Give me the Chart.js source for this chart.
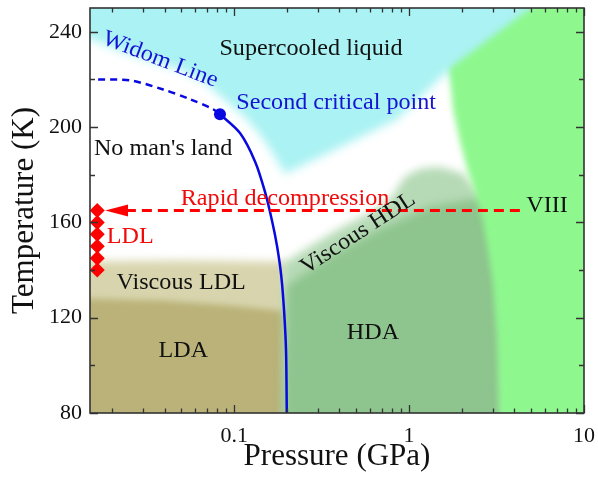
<!DOCTYPE html>
<html><head><meta charset="utf-8">
<script src="https://cdn.jsdelivr.net/npm/chart.js@4.4.1/dist/chart.umd.min.js"></script>
<style>html,body{margin:0;padding:0;background:#fff;}canvas{display:block;}</style>
</head><body>
<canvas id="c" width="598" height="477"></canvas>
<script>
// ---------- data ----------
const xTickValues = [0.02,0.03,0.04,0.05,0.06,0.07,0.08,0.09,0.1,0.2,0.3,0.4,0.5,0.6,0.7,0.8,0.9,1,2,3,4,5,6,7,8,9,10];
const xMajorTicks = [0.1, 1, 10];
const yTickValues = [80,100,120,140,160,180,200,220,240];
const yMajorTicks = [80,120,160,200,240];

// Widom line (dashed) and LDL-HDL coexistence line (solid)
const widomP = [0.0167, 0.0255, 0.0393, 0.0561, 0.0759, 0.083];
const widomT = [220, 219.6, 215.8, 211.7, 207.5, 205.4];
const coexP = [0.083, 0.108, 0.132, 0.150, 0.165, 0.176, 0.186, 0.193, 0.198, 0.2];
const coexT = [205.4, 197.5, 185.4, 172.9, 160.4, 150, 137.5, 122.9, 106.25, 80];
const criticalP = [0.083];
const criticalT = [205.4];
// rapid decompression arrow
const arrowP = [4.3, 0.0213];
const arrowT = [165, 165];
// LDL points
const ldlP = [0.0165, 0.0165, 0.0165, 0.0165, 0.0165, 0.0165];
const ldlT = [140, 145, 150, 155, 160, 165];

// phase regions (pressure GPa, temperature K)
const cyanP = [0.01, 20, 20, 1.9, 1.714, 1.563, 0.854, 0.354, 0.1954, 0.1715, 0.1445, 0.1156, 0.0888, 0.0683, 0.0491, 0.0331, 0.0223, 0.015, 0.01];
const cyanT = [270, 270, 216, 216, 224.2, 221.7, 203.3, 189.6, 180.4, 187.5, 195.8, 204.2, 211.25, 218.75, 224.2, 227.9, 232.1, 237.1, 238.5];
const vLdlP = [0.01, 0.01, 0.05, 0.2, 0.2];
const vLdlT = [60, 143.5, 144, 143.5, 60];
const ldaP = [0.01, 0.01, 0.0414, 0.0987, 0.183, 0.2, 0.2];
const ldaT = [60, 128.3, 127.1, 125, 122.9, 122.5, 60];
const vHdlP = [0.19, 0.1905, 0.261, 0.404, 0.622, 0.778, 0.948, 1.156, 1.503, 2.036, 2.447, 3.5, 3.5];
const vHdlT = [60, 142.5, 149.2, 157.5, 164.6, 169.6, 179.2, 182.5, 183.3, 180.4, 172.9, 170, 60];
const hdaP = [0.19, 0.2, 0.354, 0.682, 1.318, 2.233, 3.5, 3.5];
const hdaT = [60, 133.3, 145.8, 157.1, 166.7, 169.6, 169, 60];
const iceP = [1.7, 9.3, 20, 20, 3.3, 3.267, 3.185, 3.02, 2.827, 2.648, 2.415, 2.173, 1.956, 1.784];
const iceT = [224.6, 265, 265, 60, 60, 80, 110.4, 134.2, 147.9, 160.4, 170.8, 181.25, 193.75, 207.5];

// text labels
const labelTexts = ["Supercooled liquid", "Widom Line", "Second critical point", "No man's land", "Rapid decompression", "VIII", "LDL", "Viscous LDL", "LDA", "HDA", "Viscous HDL"];
const labelP = [0.275, 0.0378, 0.383, 0.0393, 0.1954, 6.15, 0.0255, 0.0498, 0.0512, 0.622, 0.511];
const labelT = [232.9, 228.3, 210, 190.8, 170, 167.1, 153.75, 134.6, 106.25, 113.75, 155.4];

// ---------- styles ----------
const SERIF = '"Liberation Serif", "Times New Roman", serif';
const BLUE = 'rgb(8,8,225)';
const RED = 'rgb(240,10,10)';
const regions = [
  {p: cyanP, t: cyanT, color: 'rgb(170,242,243)', blur: 5},
  {p: vLdlP, t: vLdlT, color: 'rgb(216,213,174)', blur: 4},
  {p: ldaP, t: ldaT, color: 'rgb(186,178,120)', blur: 3},
  {p: vHdlP, t: vHdlT, color: 'rgb(182,218,182)', blur: 4},
  {p: hdaP, t: hdaT, color: 'rgb(142,196,142)', blur: 4},
  {p: iceP, t: iceT, color: 'rgb(142,248,142)', blur: 3}
];
const labelStyles = [
  {color: '#111', size: 23, rot: 0},
  {color: 'rgb(20,20,210)', size: 23, rot: 21},
  {color: 'rgb(20,20,210)', size: 23, rot: 0},
  {color: '#111', size: 23, rot: 0},
  {color: RED, size: 23, rot: 0},
  {color: '#111', size: 23, rot: 0},
  {color: RED, size: 23, rot: 0},
  {color: '#111', size: 23, rot: 0},
  {color: '#111', size: 23, rot: 0},
  {color: '#111', size: 23, rot: 0},
  {color: '#111', size: 23, rot: -33}
];

// arrow head image used as point style
const head = document.createElement('canvas');
head.width = 23; head.height = 13;
(function(){ const g = head.getContext('2d'); g.fillStyle = 'rgb(255,0,0)'; g.beginPath(); g.moveTo(0,6.5); g.lineTo(23,0.5); g.lineTo(23,12.5); g.closePath(); g.fill(); })();

const pts = (P, T) => P.map((p, i) => ({x: p, y: T[i]}));

const regionPlugin = {
  id: 'regions',
  beforeDatasetsDraw(chart) {
    const {ctx, chartArea: a, scales: {x, y}} = chart;
    ctx.save();
    ctx.beginPath(); ctx.rect(a.left, a.top, a.right - a.left, a.bottom - a.top); ctx.clip();
    regions.forEach(r => {
      ctx.save();
      ctx.filter = 'blur(' + r.blur + 'px)';
      ctx.fillStyle = r.color;
      ctx.beginPath();
      r.p.forEach((p, i) => {
        const px = x.getPixelForValue(p), py = y.getPixelForValue(r.t[i]);
        if (i) ctx.lineTo(px, py); else ctx.moveTo(px, py);
      });
      ctx.closePath(); ctx.fill();
      ctx.restore();
    });
    ctx.restore();
  },
  afterDatasetsDraw(chart) {
    const {ctx, scales: {x, y}} = chart;
    labelTexts.forEach((txt, i) => {
      const s = labelStyles[i];
      ctx.save();
      ctx.translate(x.getPixelForValue(labelP[i]), y.getPixelForValue(labelT[i]));
      ctx.rotate(s.rot * Math.PI / 180);
      ctx.scale(1.05, 1);
      ctx.font = s.size + 'px ' + SERIF;
      ctx.fillStyle = s.color;
      ctx.textAlign = 'center';
      ctx.textBaseline = 'middle';
      ctx.fillText(txt, 0, 0);
      ctx.restore();
    });
  },
  afterDraw(chart) {
    const {ctx, chartArea: a, scales: {x, y}} = chart;
    ctx.save();
    ctx.strokeStyle = '#333';
    ctx.lineWidth = 1.3;
    ctx.beginPath();
    xTickValues.forEach(v => {
      const px = Math.round(x.getPixelForValue(v)) + 0.5;
      const len = xMajorTicks.includes(v) ? 8 : 4.5;
      ctx.moveTo(px, a.bottom); ctx.lineTo(px, a.bottom - len);
      ctx.moveTo(px, a.top); ctx.lineTo(px, a.top + len);
    });
    yTickValues.forEach(v => {
      const py = Math.round(y.getPixelForValue(v)) + 0.5;
      const len = yMajorTicks.includes(v) ? 8 : 5;
      ctx.moveTo(a.left, py); ctx.lineTo(a.left + len, py);
      ctx.moveTo(a.right, py); ctx.lineTo(a.right - len, py);
    });
    ctx.stroke();
    ctx.lineWidth = 1.6;
    ctx.strokeRect(a.left, a.top, a.right - a.left, a.bottom - a.top);
    ctx.restore();
  }
};

new Chart(document.getElementById('c'), {
  type: 'scatter',
  data: {
    datasets: [
      {label: 'LDL', data: pts(ldlP, ldlT), showLine: false, pointStyle: 'rectRot', pointRadius: 7.5,
       backgroundColor: 'rgb(255,0,0)', borderColor: 'rgb(255,0,0)', borderWidth: 0, order: 0},
      {label: 'Rapid decompression', data: pts(arrowP, arrowT), showLine: true, borderColor: 'rgb(255,0,0)',
       borderWidth: 3, borderDash: [10, 6], pointRadius: [0, 5], pointStyle: [false, head], order: 1},
      {label: 'Second critical point', data: pts(criticalP, criticalT), showLine: false, pointRadius: 6,
       backgroundColor: BLUE, borderColor: BLUE, borderWidth: 0, order: 2},
      {label: 'Widom Line', data: pts(widomP, widomT), showLine: true, borderColor: BLUE, borderWidth: 2.5,
       borderDash: [7, 5], pointRadius: 0, tension: 0.3, order: 3},
      {label: 'LDL-HDL line', data: pts(coexP, coexT), showLine: true, borderColor: BLUE, borderWidth: 2.5,
       pointRadius: 0, tension: 0.3, order: 4}
    ]
  },
  options: {
    responsive: false,
    animation: false,
    layout: {padding: {top: 6, right: 14, left: 0, bottom: 0}},
    plugins: {legend: {display: false}, tooltip: {enabled: false}},
    scales: {
      x: {
        type: 'logarithmic', min: 0.015, max: 10,
        grid: {display: false, drawTicks: false}, border: {display: false},
        afterBuildTicks: s => { s.ticks = xTickValues.map(v => ({value: v})); },
        afterFit: s => { s.height = 64; s.paddingLeft = 0; s.paddingRight = 0; },
        ticks: {autoSkip: false, maxRotation: 0, padding: 10, color: '#111',
          font: {family: SERIF, size: 22},
          callback: v => xMajorTicks.includes(v) ? String(v) : ''},
        title: {display: true, text: 'Pressure (GPa)', color: '#111', font: {family: SERIF, size: 31}, padding: {bottom: 2}}
      },
      y: {
        type: 'linear', min: 80, max: 250,
        grid: {display: false, drawTicks: false}, border: {display: false},
        afterBuildTicks: s => { s.ticks = yTickValues.map(v => ({value: v})); },
        afterFit: s => { s.width = 90; s.paddingTop = 0; s.paddingBottom = 0; },
        ticks: {autoSkip: false, padding: 8, color: '#111', font: {family: SERIF, size: 22},
          callback: v => yMajorTicks.includes(v) ? String(v) : ''},
        title: {display: true, text: 'Temperature (K)', color: '#111', font: {family: SERIF, size: 31}, padding: {top: 6}}
      }
    }
  },
  plugins: [regionPlugin]
});
</script>
</body></html>
